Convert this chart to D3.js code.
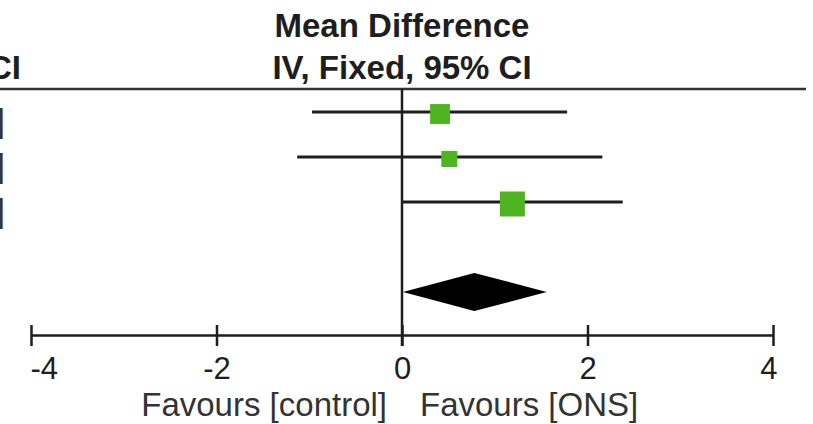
<!DOCTYPE html>
<html>
<head>
<meta charset="utf-8">
<script src="https://cdn.jsdelivr.net/npm/d3@7"></script>
<style>
  html, body { margin: 0; padding: 0; background: #fff; }
  svg { display: block; }
</style>
</head>
<body>
<script>
// study rows
const meanDiff = [0.41, 0.51, 1.19];
const ciLow = [-0.97, -1.13, 0.0];
const ciHigh = [1.78, 2.16, 2.38];
const weights = [31, 20, 49];

// pooled estimate
const totalMean = 0.78;
const totalLow = 0.01;
const totalHigh = 1.56;

const tickValues = [-4, -2, 0, 2, 4];
const headerLines = ["Mean Difference", "IV, Fixed, 95% CI"];
const favourLeft = "Favours [control]";
const favourRight = "Favours [ONS]";

let width = 813;
let height = 424;
let font = "'Liberation Sans', Arial, sans-serif";
let ink = "#1e1e1e";
let green = "#4fb421";

let svg = d3.select("body").append("svg")
    .attr("width", width)
    .attr("height", height);

// x: mean difference, y: row index (rows 0..2 studies, row 4 total)
let x = d3.scaleLinear().domain([-4, 4]).range([31, 773]);
let y = d3.scaleLinear().domain([0, 4]).range([112, 292]);
let axisY = 335;

// column header
svg.append("g").selectAll("text")
    .data(headerLines)
    .enter()
    .append("text")
    .attr("x", x(0))
    .attr("y", (d, i) => 37 + i * 42)
    .attr("text-anchor", "middle")
    .attr("font-family", font)
    .attr("font-weight", "bold")
    .attr("font-size", 33)
    .attr("fill", ink)
    .text(d => d);

// tail of the neighbouring column header, clipped by the crop
svg.append("text")
    .attr("x", 21)
    .attr("y", 79)
    .attr("text-anchor", "end")
    .attr("font-family", font)
    .attr("font-weight", "bold")
    .attr("font-size", 33)
    .attr("fill", ink)
    .text("95% CI");

svg.append("line")
    .attr("x1", 0).attr("x2", 806)
    .attr("y1", 89).attr("y2", 89)
    .attr("stroke", "#333")
    .attr("stroke-width", 2.5);

// clipped CI text of the neighbouring column
svg.append("g").selectAll("text")
    .data(meanDiff)
    .enter()
    .append("text")
    .attr("x", 5)
    .attr("y", (d, i) => y(i) + 20)
    .attr("text-anchor", "end")
    .attr("font-family", font)
    .attr("font-size", 33)
    .attr("fill", "#333")
    .text((d, i) => `${d.toFixed(2)} [${ciLow[i].toFixed(2)}, ${ciHigh[i].toFixed(2)}]`);

// line of no effect
svg.append("line")
    .attr("x1", x(0)).attr("x2", x(0))
    .attr("y1", 89).attr("y2", axisY + 11)
    .attr("stroke", ink)
    .attr("stroke-width", 2.5);

// confidence intervals
svg.append("g").selectAll("line")
    .data(meanDiff)
    .enter()
    .append("line")
    .attr("x1", (d, i) => x(ciLow[i]))
    .attr("x2", (d, i) => x(ciHigh[i]))
    .attr("y1", (d, i) => y(i))
    .attr("y2", (d, i) => y(i))
    .attr("stroke", ink)
    .attr("stroke-width", 2.8);

// weight squares
let side = w => Math.sqrt(w) * 3.57;
svg.append("g").selectAll("rect")
    .data(meanDiff)
    .enter()
    .append("rect")
    .attr("x", (d, i) => x(d) - side(weights[i]) / 2)
    .attr("y", (d, i) => y(i) + 2 - side(weights[i]) / 2)
    .attr("width", (d, i) => side(weights[i]))
    .attr("height", (d, i) => side(weights[i]))
    .attr("fill", green);

// pooled diamond
let dy = y(4);
svg.append("path")
    .attr("d", `M${x(totalLow)},${dy}L${x(totalMean)},${dy - 19}L${x(totalHigh)},${dy}L${x(totalMean)},${dy + 19}Z`)
    .attr("fill", "#000");

// axis with ticks crossing the line
let axisG = svg.append("g")
    .attr("transform", `translate(0, ${axisY})`)
    .call(d3.axisBottom(x).tickValues(tickValues).tickFormat(d => String(d))
        .tickSizeOuter(0).tickSizeInner(11).tickPadding(0));
axisG.select(".domain")
    .attr("stroke", ink)
    .attr("stroke-width", 2.5);
axisG.selectAll(".tick line")
    .attr("y1", -10)
    .attr("y2", 11)
    .attr("stroke", ink)
    .attr("stroke-width", 2.5);
axisG.selectAll(".tick text")
    .attr("y", 44)
    .attr("dy", 0)
    .attr("font-family", font)
    .attr("font-size", 31)
    .attr("fill", ink)
    .attr("text-anchor", d => d === tickValues[0] ? "start" : (d === tickValues[tickValues.length - 1] ? "end" : "middle"))
    .attr("x", d => d === tickValues[0] ? -1 : (d === tickValues[tickValues.length - 1] ? 4 : 0));

// favours labels
svg.append("text")
    .attr("x", x(0) - 15)
    .attr("y", 416)
    .attr("text-anchor", "end")
    .attr("font-family", font)
    .attr("font-size", 33)
    .attr("fill", "#333")
    .text(favourLeft);

svg.append("text")
    .attr("x", x(0) + 18)
    .attr("y", 416)
    .attr("text-anchor", "start")
    .attr("font-family", font)
    .attr("font-size", 33)
    .attr("fill", "#333")
    .text(favourRight);
</script>
</body>
</html>
